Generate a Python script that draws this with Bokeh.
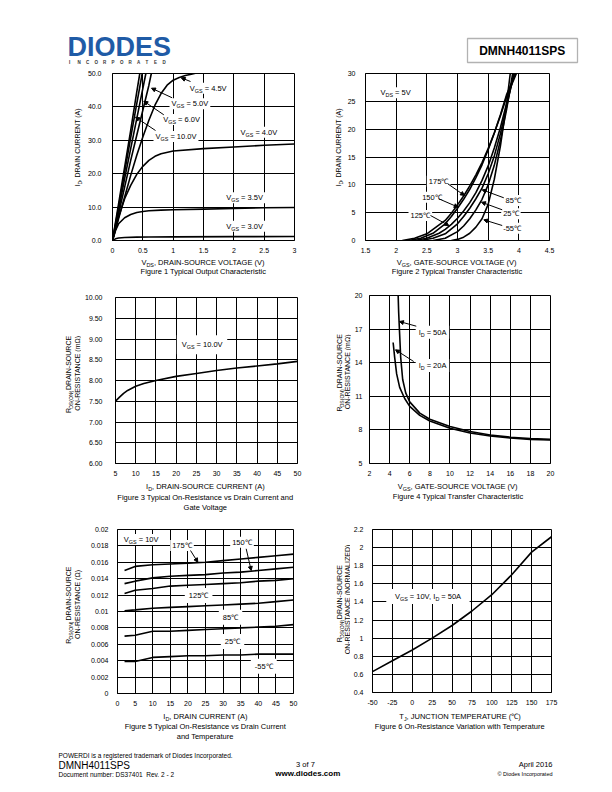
import math
from bokeh.plotting import figure
from bokeh.models import Range1d, FixedTicker, Label, Arrow, NormalHead, BoxAnnotation
from bokeh.layouts import column, row
from bokeh.embed import file_html
from bokeh.resources import INLINE
from bokeh.core.properties import value

FONT = "Liberation Sans"

# ======================= DATA =======================
# Figure 1 - Typical Output Characteristic (VDS [V] -> ID [A])
f1_xticks = [0, 0.5, 1, 1.5, 2, 2.5, 3]
f1_xlabels = ["0", "0.5", "1", "1.5", "2", "2.5", "3"]
f1_yticks = [0, 10, 20, 30, 40, 50]
f1_ylabels = ["0.0", "10.0", "20.0", "30.0", "40.0", "50.0"]
f1_vds_10v = [0, 0.1, 0.2, 0.3, 0.4, 0.45]
f1_id_10v = [0, 11, 22, 33, 44.5, 50]
f1_vds_8v = [0, 0.1, 0.2, 0.3, 0.4, 0.49]
f1_id_8v = [0, 10, 20.5, 30.8, 41, 50]
f1_vds_6v = [0, 0.1, 0.2, 0.3, 0.4, 0.5, 0.55]
f1_id_6v = [0, 9, 18.5, 27.5, 36.5, 45.5, 50]
f1_vds_5v = [0, 0.1, 0.2, 0.3, 0.4, 0.5, 0.6, 0.64]
f1_id_5v = [0, 8, 16, 24, 31.5, 39, 46.5, 50]
f1_vds_45v = [0, 0.1, 0.2, 0.3, 0.4, 0.5, 0.6, 0.7, 0.8, 0.9, 1.0, 1.1, 1.2, 1.3, 1.4]
f1_id_45v = [0, 6.5, 13, 19.5, 25.5, 31, 36, 40.5, 44, 46.5, 48, 48.8, 49.4, 49.8, 50.2]
f1_vds_4v = [0, 0.05, 0.1, 0.2, 0.3, 0.4, 0.5, 0.6, 0.7, 0.8, 1.0, 1.5, 2.0, 2.5, 3.0]
f1_id_4v = [0, 3.5, 7, 12.5, 16.5, 19.8, 22.2, 24, 25.2, 26, 26.8, 27.5, 28, 28.5, 28.9]
f1_vds_35v = [0, 0.05, 0.1, 0.2, 0.3, 0.4, 0.5, 0.6, 0.8, 1.0, 1.5, 2.0, 2.5, 3.0]
f1_id_35v = [0, 3, 5, 6.8, 7.8, 8.4, 8.7, 8.9, 9.1, 9.2, 9.4, 9.6, 9.8, 9.9]
f1_vds_3v = [0, 0.05, 0.1, 0.2, 0.4, 0.6, 1.0, 2.0, 3.0]
f1_id_3v = [0, 0.5, 0.75, 0.9, 1.0, 1.05, 1.1, 1.15, 1.2]

# Figure 2 - Typical Transfer Characteristic (VGS [V] -> ID [A])
f2_xticks = [1.5, 2, 2.5, 3, 3.5, 4, 4.5]
f2_xlabels = ["1.5", "2", "2.5", "3", "3.5", "4", "4.5"]
f2_yticks = [0, 5, 10, 15, 20, 25, 30]
f2_ylabels = ["0", "5", "10", "15", "20", "25", "30"]
f2_vgs_m55 = [2.9, 3.0, 3.1, 3.2, 3.3, 3.4, 3.5, 3.6, 3.7, 3.8, 3.86]
f2_id_m55 = [0, 0.2, 0.6, 1.3, 2.4, 3.9, 6.5, 11, 17, 24.5, 30]
f2_vgs_25 = [2.6, 2.8, 3.0, 3.1, 3.2, 3.3, 3.4, 3.5, 3.6, 3.7, 3.8, 3.9]
f2_id_25 = [0, 0.4, 1.6, 2.6, 3.9, 5.5, 7.4, 10, 13.5, 18, 23.5, 30]
f2_vgs_85 = [2.4, 2.6, 2.8, 3.0, 3.1, 3.2, 3.3, 3.4, 3.5, 3.6, 3.7, 3.8, 3.92]
f2_id_85 = [0, 0.4, 1.2, 3, 4.3, 5.8, 7.5, 9.4, 12, 15.2, 19.2, 24, 30]
f2_vgs_125 = [2.3, 2.5, 2.7, 2.8, 2.9, 3.0, 3.1, 3.2, 3.3, 3.4, 3.5, 3.6, 3.7, 3.8, 3.93]
f2_id_125 = [0, 0.4, 1.3, 2.0, 2.9, 4.0, 5.3, 6.8, 8.6, 10.8, 13.4, 16.6, 20.3, 24.6, 30]
f2_vgs_150 = [2.2, 2.4, 2.6, 2.8, 2.9, 3.0, 3.1, 3.2, 3.3, 3.4, 3.5, 3.6, 3.7, 3.8, 3.95]
f2_id_150 = [0, 0.4, 1.3, 3.0, 4.3, 5.8, 7.4, 9.2, 11.3, 13.6, 16.3, 19.3, 22.6, 26.2, 30]
f2_vgs_175 = [2.1, 2.3, 2.5, 2.7, 2.8, 2.9, 3.0, 3.1, 3.2, 3.3, 3.4, 3.5, 3.6, 3.7, 3.8, 3.96]
f2_id_175 = [0, 0.4, 1.2, 2.8, 3.6, 4.9, 6.4, 8.0, 9.8, 11.8, 14.0, 16.5, 19.3, 22.4, 25.8, 30]

# Figure 3 - On-Resistance vs Drain Current (ID [A] -> RDS(ON) [mOhm])
f3_xticks = [5, 10, 15, 20, 25, 30, 35, 40, 45, 50]
f3_xlabels = ["5", "10", "15", "20", "25", "30", "35", "40", "45", "50"]
f3_yticks = [6.0, 6.5, 7.0, 7.5, 8.0, 8.5, 9.0, 9.5, 10.0]
f3_ylabels = ["6.00", "6.50", "7.00", "7.50", "8.00", "8.50", "9.00", "9.50", "10.00"]
f3_id = [5, 6, 7, 8, 10, 12, 15, 20, 25, 30, 35, 40, 45, 50]
f3_rds = [7.5, 7.6, 7.69, 7.76, 7.86, 7.93, 8.0, 8.1, 8.17, 8.24, 8.3, 8.35, 8.4, 8.46]

# Figure 4 - On-Resistance vs Gate Voltage (VGS [V] -> RDS(ON) [mOhm])
f4_xticks = [2, 4, 6, 8, 10, 12, 14, 16, 18, 20]
f4_xlabels = ["2", "4", "6", "8", "10", "12", "14", "16", "18", "20"]
f4_yticks = [5, 8, 11, 14, 17, 20]
f4_ylabels = ["5", "8", "11", "14", "17", "20"]
f4_vgs_50a = [4.85, 4.9, 5.0, 5.1, 5.3, 5.6, 6.0, 7.0, 8.0, 10, 12, 14, 16, 18, 20]
f4_rds_50a = [20, 18.5, 16.5, 14.5, 12.5, 11.3, 10.5, 9.5, 8.95, 8.3, 7.85, 7.55, 7.35, 7.22, 7.15]
f4_vgs_20a = [4.35, 4.5, 4.7, 5.0, 5.5, 6.0, 7.0, 8.0, 10, 12, 14, 16, 18, 20]
f4_rds_20a = [15.8, 14.5, 13.0, 11.8, 10.8, 10.1, 9.3, 8.8, 8.15, 7.72, 7.45, 7.27, 7.15, 7.1]

# Figure 5 - On-Resistance vs Drain Current and Temperature (ID [A] -> RDS(ON) [Ohm])
f5_xticks = [0, 5, 10, 15, 20, 25, 30, 35, 40, 45, 50]
f5_xlabels = ["0", "5", "10", "15", "20", "25", "30", "35", "40", "45", "50"]
f5_yticks = [0, 0.002, 0.004, 0.006, 0.008, 0.01, 0.012, 0.014, 0.016, 0.018, 0.02]
f5_ylabels = ["0", "0.002", "0.004", "0.006", "0.008", "0.01", "0.012", "0.014", "0.016", "0.018", "0.02"]
f5_id = [2, 5, 10, 15, 20, 25, 30, 35, 40, 45, 50]
f5_rds_175 = [0.0150, 0.0155, 0.0157, 0.0158, 0.0159, 0.0160, 0.0162, 0.0164, 0.0166, 0.0168, 0.0170]
f5_rds_150 = [0.0134, 0.0137, 0.0141, 0.0143, 0.0144, 0.0145, 0.0147, 0.0148, 0.0150, 0.0152, 0.0154]
f5_rds_125 = [0.0122, 0.0126, 0.0128, 0.0131, 0.0132, 0.0133, 0.0134, 0.0135, 0.0137, 0.0138, 0.0140]
f5_rds_85 = [0.0101, 0.0102, 0.0104, 0.0105, 0.0106, 0.0107, 0.0108, 0.0109, 0.0110, 0.0112, 0.0114]
f5_rds_25 = [0.0070, 0.0071, 0.0076, 0.0076, 0.0077, 0.0078, 0.0079, 0.0080, 0.0081, 0.0082, 0.0084]
f5_rds_m55 = [0.0039, 0.0039, 0.0044, 0.0045, 0.0046, 0.0046, 0.0047, 0.0047, 0.0048, 0.0048, 0.0048]

# Figure 6 - On-Resistance Variation with Temperature (TJ [C] -> normalized RDS(ON))
f6_xticks = [-50, -25, 0, 25, 50, 75, 100, 125, 150, 175]
f6_xlabels = ["-50", "-25", "0", "25", "50", "75", "100", "125", "150", "175"]
f6_yticks = [0.4, 0.6, 0.8, 1.0, 1.2, 1.4, 1.6, 1.8, 2.0, 2.2]
f6_ylabels = ["0.4", "0.6", "0.8", "1", "1.2", "1.4", "1.6", "1.8", "2", "2.2"]
f6_tj = [-50, -25, 0, 25, 50, 75, 100, 125, 150, 175]
f6_rnorm = [0.63, 0.75, 0.87, 1.0, 1.14, 1.3, 1.48, 1.7, 1.95, 2.12]

# ======================= HELPERS =======================
W = {' ': 278, '!': 278, '(': 333, ')': 333, ',': 278, '-': 333, '.': 278, '/': 278, ':': 278, '=': 584,
     'A': 667, 'B': 667, 'C': 722, 'D': 722, 'E': 667, 'F': 611, 'G': 778, 'H': 722, 'I': 278, 'J': 500,
     'K': 667, 'L': 556, 'M': 833, 'N': 722, 'O': 778, 'P': 667, 'Q': 778, 'R': 722, 'S': 667, 'T': 611,
     'U': 722, 'V': 667, 'W': 944, 'X': 667, 'Y': 667, 'Z': 611,
     'a': 556, 'b': 556, 'c': 500, 'd': 556, 'e': 556, 'f': 278, 'g': 556, 'h': 556, 'i': 222, 'j': 222,
     'k': 500, 'l': 222, 'm': 833, 'n': 556, 'o': 556, 'p': 556, 'q': 556, 'r': 333, 's': 500, 't': 278,
     'u': 556, 'v': 500, 'w': 722, 'x': 500, 'y': 500, 'z': 500, 'Ω': 768, '℃': 950, '©': 737}

TICK = "7px"
LAB = 7.5     # in-plot labels, x-axis titles and captions
YLAB = 7.0    # rotated y-axis titles


def tw(s, size):
    return sum(W.get(c, 556) for c in s) / 1000.0 * size


def keep_spaces(t):
    if t.startswith(" "):
        t = "\u00a0" + t[1:]
    if t.endswith(" "):
        t = t[:-1] + "\u00a0"
    return t.replace("  ", " \u00a0")


class Panel:
    def __init__(self, p, frame, xr, yr):
        self.p = p
        self.L, self.T, self.R, self.B = frame
        self.xr, self.yr = xr, yr

    def d(self, px, py):
        x = self.xr[0] + (px - self.L) / (self.R - self.L) * (self.xr[1] - self.xr[0])
        y = self.yr[0] + (self.B - py) / (self.B - self.T) * (self.yr[1] - self.yr[0])
        return x, y


def chart(origin, size, frame, xr, yr, xt, xl, yt, yl, ystand, xstand=7):
    ox, oy = origin
    w, h = size
    L, T, R, B = frame
    p = figure(width=w, height=h, x_range=Range1d(*xr), y_range=Range1d(*yr),
               output_backend="svg", toolbar_location=None, tools="",
               min_border_left=L - ox, min_border_right=ox + w - R,
               min_border_top=T - oy, min_border_bottom=oy + h - B)
    p.xaxis.ticker = FixedTicker(ticks=xt)
    p.xgrid.ticker = FixedTicker(ticks=xt)
    p.yaxis.ticker = FixedTicker(ticks=yt)
    p.ygrid.ticker = FixedTicker(ticks=yt)
    p.xaxis.major_label_overrides = {t: s for t, s in zip(xt, xl)}
    p.yaxis.major_label_overrides = {t: s for t, s in zip(yt, yl)}
    for ax in p.axis:
        ax.major_tick_out = 0
        ax.major_tick_in = 0
        ax.minor_tick_out = 0
        ax.minor_tick_in = 0
        ax.axis_line_color = "black"
        ax.axis_line_width = 1
        ax.major_label_text_font = FONT
        ax.major_label_text_font_size = TICK
        ax.major_label_text_color = "black"
    p.yaxis.major_label_standoff = ystand
    p.xaxis.major_label_standoff = xstand
    p.grid.grid_line_color = "black"
    p.grid.grid_line_width = 1
    p.outline_line_color = "black"
    p.outline_line_width = 1
    p.background_fill_color = "white"
    p.border_fill_color = "white"
    return Panel(p, frame, xr, yr)


def canvas(origin, size):
    ox, oy = origin
    w, h = size
    p = figure(width=w, height=h, x_range=Range1d(ox, ox + w), y_range=Range1d(oy + h, oy),
               output_backend="svg", toolbar_location=None, tools="", min_border=0,
               x_axis_location=None, y_axis_location=None)
    p.grid.visible = False
    p.outline_line_color = None
    p.background_fill_color = "white"
    p.border_fill_color = "white"
    return Panel(p, (ox, oy, ox + w, oy + h), (ox, ox + w), (oy + h, oy))


def cell(ox, oy, w, h, a, hc, frame, xr, yr, xt, xl, yt, yl, ystand):
    ylab = canvas((ox, oy), (a, hc))
    ch = chart((ox + a, oy), (w - a, hc), frame, xr, yr, xt, xl, yt, yl, ystand)
    cap = canvas((ox, oy + hc), (w, h - hc))
    lay = column(row(ylab.p, ch.p), cap.p)
    return ch, ylab, cap, lay


def rich(ch, px, py, parts, size=LAB, align="left", vertical=False, pad=None, bold=False, color="black"):
    sub_size = size * 0.72
    widths = [tw(t, sub_size if s else size) for t, s in parts]
    total = sum(widths)
    start = {"left": 0.0, "center": -total / 2.0, "right": -total}[align]
    cum = start
    for (t, s), wd in zip(parts, widths):
        fs = sub_size if s else size
        drop = size * 0.32 if s else 0.0
        if vertical:
            qx, qy, ang = px + drop, py - cum, math.pi / 2
        else:
            qx, qy, ang = px + cum, py + drop, 0.0
        x, y = ch.d(qx, qy)
        ch.p.add_layout(Label(x=x, y=y, text=keep_spaces(t), angle=ang, text_font=FONT,
                              text_font_size="%.2fpx" % fs, text_align="left", text_baseline="middle",
                              text_color=color, text_font_style="bold" if bold else "normal"))
        cum += wd
    if pad is not None:
        padx, pady = pad
        x0, y0 = ch.d(px + start - padx, py + size * 0.6 + pady)
        x1, y1 = ch.d(px + start + total + padx, py - size * 0.6 - pady)
        ch.p.add_layout(BoxAnnotation(left=x0, right=x1, bottom=y0, top=y1, fill_color="white",
                                      fill_alpha=1, line_alpha=0, level="underlay"))


def arrow(ch, a, b):
    x0, y0 = ch.d(*a)
    x1, y1 = ch.d(*b)
    ch.p.add_layout(Arrow(x_start=x0, y_start=y0, x_end=x1, y_end=y1, line_width=1, line_color="black",
                          end=NormalHead(size=4, fill_color="black", line_color="black", line_width=1)))


def curve(ch, xs, ys, lw=1.6):
    ch.p.line(xs, ys, line_color="black", line_width=lw)


def V(sub, rest):
    return [("V", 0), (sub, 1), (rest, 0)]


RDS = [("R", 0), ("DS(ON)", 1), (", DRAIN-SOURCE", 0)]

# ======================= HEADER =======================
hd = canvas((0, 0), (612, 68))
hd.p.add_layout(Label(x=67, y=46, text="DIODES", text_font=FONT, text_font_size="27px",
                      text_font_style="bold", text_color="#1f5ba6", text_baseline="middle"))
inc_letters = list("INCORPORATED")
hd.p.text(x=[68.5 + 8.5 * i for i in range(len(inc_letters))], y=[61.5] * len(inc_letters), text=inc_letters,
          text_font=value(FONT), text_font_size="4.5px", text_font_style="bold", text_color="#333333",
          text_baseline="middle", text_align="left")
hd.p.add_layout(BoxAnnotation(left=467, right=577, top=38, bottom=62, fill_alpha=0,
                              line_color="black", line_width=1.3))
rich(hd, 522, 50, [("DMNH4011SPS", 0)], size=12, align="center", bold=True)

# ======================= FIGURE 1 =======================
c1, y1, k1, lay1 = cell(0, 68, 316, 214, 84, 190, (112, 73, 294, 240), (0, 3), (0, 50),
                        f1_xticks, f1_xlabels, f1_yticks, f1_ylabels, ystand=11)
for xs, ys in [(f1_vds_10v, f1_id_10v), (f1_vds_8v, f1_id_8v), (f1_vds_6v, f1_id_6v),
               (f1_vds_5v, f1_id_5v), (f1_vds_45v, f1_id_45v), (f1_vds_4v, f1_id_4v),
               (f1_vds_35v, f1_id_35v), (f1_vds_3v, f1_id_3v)]:
    curve(c1, xs, ys)
rich(c1, 189.3, 87.7, V("GS", " = 4.5V"), pad=(2, 1))
rich(c1, 171, 103.3, V("GS", " = 5.0V"), pad=(2, 1))
rich(c1, 162.7, 119, V("GS", " = 6.0V"), pad=(2, 1))
rich(c1, 155, 136, V("GS", " = 10.0V"), pad=(2, 1))
rich(c1, 240, 131.7, V("GS", " = 4.0V"), pad=(3, 1))
rich(c1, 225.7, 197.3, V("GS", " = 3.5V"), pad=(3, 1))
rich(c1, 225.7, 225.7, V("GS", " = 3.0V"), pad=(3, 1))
arrow(c1, (190, 81), (180.7, 77.3))
arrow(c1, (171.7, 97.3), (151, 87.7))
arrow(c1, (163.3, 114.3), (143.3, 100.7))
arrow(c1, (155, 130), (135, 116.7))
rich(y1, 77, 157, [("I", 0), ("D", 1), (", DRAIN CURRENT (A)", 0)], size=YLAB, align="center", vertical=True)
rich(k1, 203, 262, V("DS", ", DRAIN-SOURCE VOLTAGE (V)"), align="center")
rich(k1, 203, 271, [("Figure 1 Typical Output Characteristic", 0)], align="center")

# ======================= FIGURE 2 =======================
c2, y2, k2, lay2 = cell(316, 68, 296, 214, 28, 190, (365, 73, 549, 240), (1.5, 4.5), (0, 30),
                        f2_xticks, f2_xlabels, f2_yticks, f2_ylabels, ystand=10)
for xs, ys in [(f2_vgs_m55, f2_id_m55), (f2_vgs_25, f2_id_25), (f2_vgs_85, f2_id_85),
               (f2_vgs_125, f2_id_125), (f2_vgs_150, f2_id_150), (f2_vgs_175, f2_id_175)]:
    curve(c2, xs, ys)
rich(c2, 380, 92.3, V("DS", " = 5V"), pad=(3, 1))
rich(c2, 428.3, 180.7, [("175℃", 0)], pad=(2, 1))
rich(c2, 421.7, 196.7, [("150℃", 0)], pad=(2, 1))
rich(c2, 410, 215, [("125℃", 0)], pad=(2, 1))
rich(c2, 505, 200, [("85℃", 0)], pad=(2, 1))
rich(c2, 502.7, 213.3, [("25℃", 0)], pad=(2, 1))
rich(c2, 502.7, 227.7, [("-55℃", 0)], pad=(2, 1))
arrow(c2, (447.3, 183.3), (464, 195))
arrow(c2, (438.3, 198.3), (457.7, 206.7))
arrow(c2, (430, 215), (448.3, 225))
arrow(c2, (503.3, 197.3), (481.7, 189.3))
arrow(c2, (501.7, 209.3), (481, 201.7))
arrow(c2, (501.7, 225), (483.3, 219.3))
rich(y2, 338, 157, [("I", 0), ("D", 1), (", DRAIN CURRENT (A)", 0)], size=YLAB, align="center", vertical=True)
rich(k2, 457, 262, V("GS", ", GATE-SOURCE VOLTAGE (V)"), align="center")
rich(k2, 457, 271, [("Figure 2 Typical Transfer Characteristic", 0)], align="center")

# ======================= FIGURE 3 =======================
c3, y3, k3, lay3 = cell(0, 282, 316, 233, 81, 199, (113, 297, 297, 463), (5, 50), (6, 10),
                        f3_xticks, f3_xlabels, f3_yticks, f3_ylabels, ystand=13)
curve(c3, f3_id, f3_rds)
rich(c3, 180, 344.3, V("GS", " = 10.0V"), pad=(5, 5))
rich(y3, 68, 380, RDS, size=YLAB, align="center", vertical=True)
rich(y3, 76.5, 380, [("ON-RESISTANCE (mΩ)", 0)], size=YLAB, align="center", vertical=True)
rich(k3, 205, 486, [("I", 0), ("D", 1), (", DRAIN-SOURCE CURRENT (A)", 0)], align="center")
rich(k3, 205, 497, [("Figure 3 Typical On-Resistance vs Drain Current and", 0)], align="center")
rich(k3, 205, 507, [("Gate Voltage", 0)], align="center")

# ======================= FIGURE 4 =======================
c4, y4, k4, lay4 = cell(316, 282, 296, 233, 35, 199, (367, 295, 550, 463), (2, 20), (5, 20),
                        f4_xticks, f4_xlabels, f4_yticks, f4_ylabels, ystand=7)
curve(c4, f4_vgs_50a, f4_rds_50a)
curve(c4, f4_vgs_20a, f4_rds_20a)
rich(c4, 416.7, 331.7, [("I", 0), ("D", 1), (" = 50A", 0)], pad=(3, 2))
rich(c4, 416.7, 365, [("I", 0), ("D", 1), (" = 20A", 0)], pad=(3, 2))
arrow(c4, (414.3, 325.7), (397.3, 321))
arrow(c4, (411.7, 361), (393.3, 349.3))
rich(y4, 339, 379, RDS, size=YLAB, align="center", vertical=True)
rich(y4, 347, 379, [("ON-RESISTANCE (mΩ)", 0)], size=YLAB, align="center", vertical=True)
rich(k4, 458, 486, V("GS", ", GATE-SOURCE VOLTAGE (V)"), align="center")
rich(k4, 458, 496, [("Figure 4 Typical Transfer Characteristic", 0)], align="center")

# ======================= FIGURE 5 =======================
c5, y5, k5, lay5 = cell(0, 515, 316, 230, 84, 196, (117, 529, 293, 693), (0, 50), (0, 0.02),
                        f5_xticks, f5_xlabels, f5_yticks, f5_ylabels, ystand=9)
for ys in [f5_rds_175, f5_rds_150, f5_rds_125, f5_rds_85, f5_rds_25, f5_rds_m55]:
    curve(c5, f5_id, ys)
rich(c5, 123.3, 539, V("GS", " = 10V"), pad=(2, 1))
rich(c5, 171.7, 545, [("175℃", 0)], pad=(2, 1))
rich(c5, 231.7, 541.7, [("150℃", 0)], pad=(2, 1))
rich(c5, 188.3, 595, [("125℃", 0)], pad=(4, 3))
rich(c5, 222.3, 616.7, [("85℃", 0)], pad=(4, 3))
rich(c5, 224.3, 641, [("25℃", 0)], pad=(4, 3))
rich(c5, 254.3, 665.7, [("-55℃", 0)], pad=(4, 3))
arrow(c5, (190, 550), (197.3, 561.7))
arrow(c5, (245.7, 548.3), (250.7, 570))
rich(y5, 68, 611, RDS, size=YLAB, align="center", vertical=True)
rich(y5, 76.5, 611, [("ON-RESISTANCE (Ω)", 0)], size=YLAB, align="center", vertical=True)
rich(k5, 205, 716, [("I", 0), ("D", 1), (", DRAIN CURRENT (A)", 0)], align="center")
rich(k5, 205, 726, [("Figure 5 Typical On-Resistance vs Drain Current", 0)], align="center")
rich(k5, 205, 736, [("and Temperature", 0)], align="center")

# ======================= FIGURE 6 =======================
c6, y6, k6, lay6 = cell(316, 515, 296, 230, 34, 196, (369, 529, 551, 692), (-50, 175), (0.4, 2.2),
                        f6_xticks, f6_xlabels, f6_yticks, f6_ylabels, ystand=9)
curve(c6, f6_tj, f6_rnorm)
rich(c6, 392, 596, V("GS", " = 10V, ") + [("I", 0), ("D", 1), (" = 50A", 0)], pad=(9, 3))
rich(y6, 339, 610, RDS, size=YLAB, align="center", vertical=True)
rich(y6, 346.5, 610, [("ON-RESISTANCE (NORMALIZED)", 0)], size=YLAB, align="center", vertical=True)
rich(k6, 460, 716, [("T", 0), ("J", 1), (", JUNCTION TEMPERATURE (℃)", 0)], align="center")
rich(k6, 460, 726, [("Figure 6 On-Resistance Variation with Temperature", 0)], align="center")

# ======================= FOOTER =======================
ft = canvas((0, 745), (612, 47))
rich(ft, 58, 755, [("POWERDI is a registered trademark of Diodes Incorporated.", 0)], size=6.5)
rich(ft, 58, 764.5, [("DMNH4011SPS", 0)], size=10)
rich(ft, 58, 774, [("Document number: DS37401  Rev. 2 - 2", 0)], size=6.5)
rich(ft, 305, 764, [("3 of 7", 0)], size=7.5, align="center")
rich(ft, 305, 773, [("www.diodes.com", 0)], size=8, align="center", bold=True)
rich(ft, 552, 764, [("April 2016", 0)], size=7.5, align="right")
rich(ft, 552, 773, [("© Diodes Incorporated", 0)], size=5.5, align="right")

layout = column(hd.p, row(lay1, lay2), row(lay3, lay4), row(lay5, lay6), ft.p)
open("out.html", "w").write(file_html(layout, INLINE))
